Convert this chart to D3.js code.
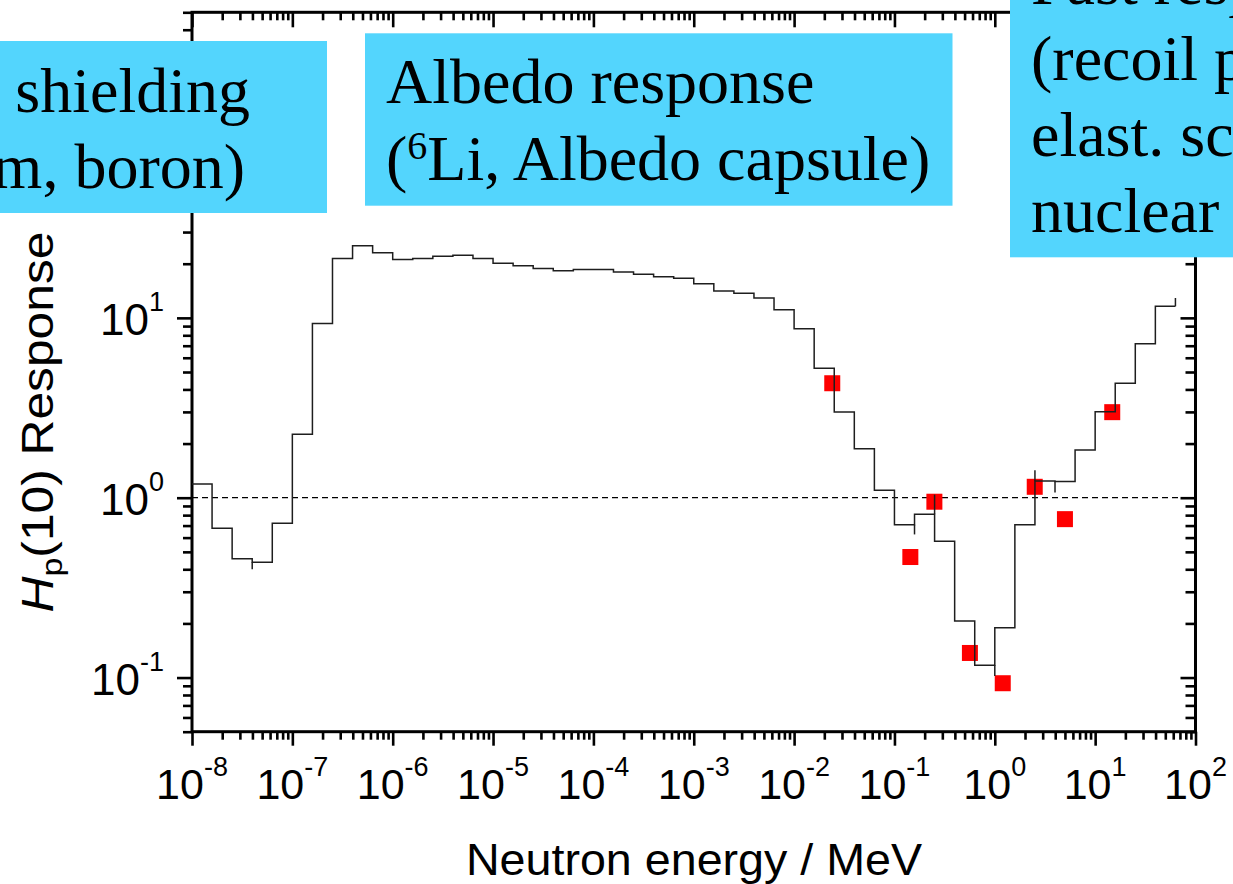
<!DOCTYPE html>
<html><head><meta charset="utf-8">
<script src="https://cdn.jsdelivr.net/npm/d3@7"></script>
<style>body{margin:0;background:#fff;overflow:hidden} svg{display:block}</style>
</head><body><svg id="c" width="1233" height="884"></svg>
<script>
// ---------- data ----------
// histogram bin edges (log10 of neutron energy in MeV)
const binEdgeExponents = [-8,-7.8,-7.6,-7.4,-7.2,-7,-6.8,-6.6,-6.4,-6.2,-6,-5.8,-5.6,-5.4,-5.2,-5,-4.8,-4.6,-4.4,-4.2,-4,-3.8,-3.6,-3.4,-3.2,-3,-2.8,-2.6,-2.4,-2.2,-2,-1.8,-1.6,-1.4,-1.2,-1,-0.8,-0.6,-0.4,-0.2,0,0.2,0.4,0.6,0.8,1,1.2,1.4,1.6,1.8];
// Hp(10) response per bin
const responseValues = [1.19,0.676,0.458,0.437,0.721,2.25,9.29,21.4,25.2,23.0,21.1,21.4,22.0,22.3,21.4,20.1,19.5,18.8,18.3,18.6,18.6,18.0,17.5,16.9,16.6,15.5,14.1,13.7,12.9,11.1,8.71,5.25,3.00,1.87,1.10,0.708,0.809,0.572,0.206,0.117,0.189,0.708,1.24,1.23,1.84,3.01,4.33,7.19,11.6];
// small vertical overshoots of the histogram at some bin edges
const spikeExponents = [-7.4,-0.8,-0.6,0,0.4,0.6,1.8];
const spikeTips = [0.40,0.625,1.04,0.102,1.42,1.07,12.9];
// measured points (red squares)
const measuredEnergies = [0.024,0.144,0.25,0.565,1.2,2.5,5.0,14.8];
const measuredResponses = [4.33,0.468,0.95,0.137,0.093,1.15,0.76,2.99];
const referenceLevel = 1;
// tick labels
const xTickExponents = [-8,-7,-6,-5,-4,-3,-2,-1,0,1,2];
const yTickExponents = [-1,0,1];
// annotation boxes (visible parts of the slide text)
const box1Lines = ["shielding","m, boron)"];
const box2Line1 = "Albedo response";
const box2Line2 = ["(","6","Li, Albedo capsule)"];
const box3Lines = ["Fast response","(recoil protons,","elast. scattering,","nuclear reactions)"];

// ---------- drawing ----------
const svg = d3.select('#c');
const L=192, R=1195.5, T=12.3, B=731.7;
const x = d3.scaleLog().domain([1e-8,1e2]).range([L,R]);
const y = d3.scaleLog().domain([0.05,500]).range([B,T]);
const sans = "'Liberation Sans', Arial, sans-serif";
const serif = "'Liberation Serif', 'Times New Roman', serif";
const boxColor = "#53d5fd";

function logTicks(dom){
  const maj=[],min=[];
  for(let e=Math.floor(Math.log10(dom[0]))-1;e<=Math.ceil(Math.log10(dom[1]));e++){
    for(let m=1;m<10;m++){
      const v=m*Math.pow(10,e);
      if(v<dom[0]*0.9999||v>dom[1]*1.0001) continue;
      (m===1?maj:min).push(v);
    }
  }
  return {maj,min};
}
const xt = logTicks(x.domain()), yt = logTicks(y.domain());

function tickGroup(axisFn, scale, vals, size, tr){
  const g = svg.append('g').attr('transform',tr)
    .call(axisFn(scale).tickValues(vals).tickSize(size).tickFormat(''));
  g.select('.domain').remove();
  g.selectAll('.tick line').attr('stroke','#000').attr('stroke-width',2.6);
  return g;
}
// bottom (outward), top (inward)
tickGroup(d3.axisBottom,x,xt.min,8,`translate(0,${B})`);
tickGroup(d3.axisBottom,x,xt.maj,14,`translate(0,${B})`);
tickGroup(d3.axisBottom,x,xt.min,8,`translate(0,${T})`);
tickGroup(d3.axisBottom,x,xt.maj,15,`translate(0,${T})`);
// left (outward), right (inward)
tickGroup(d3.axisLeft,y,yt.min,9,`translate(${L},0)`);
tickGroup(d3.axisLeft,y,yt.maj,15,`translate(${L},0)`);
tickGroup(d3.axisLeft,y,yt.min,10,`translate(${R},0)`);
tickGroup(d3.axisLeft,y,yt.maj,15,`translate(${R},0)`);

// frame
svg.append('rect').attr('x',L).attr('y',T).attr('width',R-L).attr('height',B-T)
  .attr('fill','none').attr('stroke','#000').attr('stroke-width',3);

// reference line at 1
svg.append('line').attr('x1',L).attr('x2',R).attr('y1',y(referenceLevel)).attr('y2',y(referenceLevel))
  .attr('stroke','#000').attr('stroke-width',1.3).attr('stroke-dasharray','6,4');

// red squares
const sq = 16;
svg.append('g').selectAll('rect').data(measuredEnergies).join('rect')
  .attr('x',(d)=>x(d)-sq/2).attr('y',(d,i)=>y(measuredResponses[i])-sq/2)
  .attr('width',sq).attr('height',sq).attr('fill','#fe0000');

// histogram step line
const stepPts = binEdgeExponents.map((e,i)=>[Math.pow(10,e), responseValues[Math.min(i,responseValues.length-1)]]);
const line = d3.line().x(d=>x(d[0])).y(d=>y(d[1])).curve(d3.curveStepAfter);
svg.append('path').attr('d',line(stepPts)).attr('fill','none').attr('stroke','#1e1e1e').attr('stroke-width',1.5);
// spikes
spikeExponents.forEach((e,k)=>{
  const i = binEdgeExponents.findIndex(v=>Math.abs(v-e)<1e-9);
  const cands = [responseValues[i-1], responseValues[i]].filter(v=>v!==undefined);
  const tip = spikeTips[k];
  let base = cands[0];
  cands.forEach(c=>{ if(Math.abs(Math.log(c/tip))<Math.abs(Math.log(base/tip))) base=c; });
  const xx = x(Math.pow(10,e));
  svg.append('line').attr('x1',xx).attr('x2',xx).attr('y1',y(base)).attr('y2',y(tip))
    .attr('stroke','#1e1e1e').attr('stroke-width',1.5);
});

// tick labels
const xl = svg.append('g').attr('font-family',sans).attr('fill','#000');
xTickExponents.forEach(e=>{
  const t = xl.append('text').attr('x',x(Math.pow(10,e))).attr('y',799).attr('text-anchor','middle').attr('font-size',43);
  t.append('tspan').text('10');
  t.append('tspan').attr('dy',-23).attr('font-size',27).text(String(e));
});
yTickExponents.forEach(e=>{
  const t = xl.append('text').attr('x',164).attr('y',y(Math.pow(10,e))+17).attr('text-anchor','end').attr('font-size',44);
  t.append('tspan').text('10');
  t.append('tspan').attr('dy',-24).attr('font-size',27).text(String(e));
});

// axis titles
xl.append('text').attr('transform','translate(694,875) scale(1.06,1)').attr('text-anchor','middle').attr('font-size',44).text('Neutron energy / MeV');
const yt1 = xl.append('text').attr('transform','translate(53,422) rotate(-90) scale(1.13,1)').attr('text-anchor','middle').attr('font-size',44);
yt1.append('tspan').attr('font-style','italic').text('H');
yt1.append('tspan').attr('font-size',30).attr('dy',9).text('p');
yt1.append('tspan').attr('dy',-9).text('(10) Response');

// annotation boxes
svg.append('rect').attr('x',-5).attr('y',41).attr('width',332).attr('height',172).attr('fill',boxColor);
const b1 = svg.append('g').attr('font-family',serif).attr('font-size',64).attr('fill','#000');
b1.append('text').attr('x',250).attr('y',112).attr('text-anchor','end').text(box1Lines[0]);
b1.append('text').attr('x',245).attr('y',188).attr('text-anchor','end').text(box1Lines[1]);

svg.append('rect').attr('x',365).attr('y',33.3).attr('width',587.5).attr('height',172.4).attr('fill',boxColor);
const b2 = svg.append('g').attr('font-family',serif).attr('font-size',64).attr('fill','#000');
b2.append('text').attr('x',386).attr('y',103).text(box2Line1);
const b2t = b2.append('text').attr('x',386).attr('y',180);
b2t.append('tspan').text(box2Line2[0]);
b2t.append('tspan').attr('dy',-21).attr('font-size',40).text(box2Line2[1]);
b2t.append('tspan').attr('dy',21).text(box2Line2[2]);

svg.append('rect').attr('x',1010).attr('y',-5).attr('width',240).attr('height',262.3).attr('fill',boxColor);
const b3 = svg.append('g').attr('font-family',serif).attr('font-size',64).attr('fill','#000');
box3Lines.forEach((s,i)=>{
  b3.append('text').attr('x',1031).attr('y',4+76*i).text(s);
});
</script>
</body></html>
